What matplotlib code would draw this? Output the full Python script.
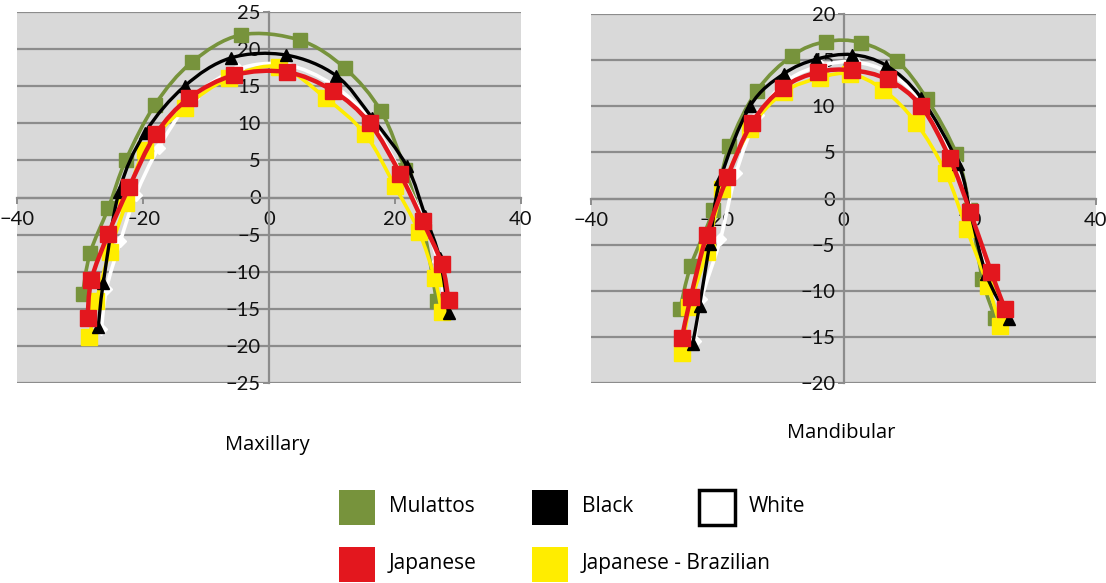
import numpy as np
import matplotlib.pyplot as plt
from matplotlib.patches import Rectangle, PathPatch
from matplotlib.path import Path

# Maxillary arch (x, y) per group
max_mul_x = [-29.6, -28.4, -25.5, -22.7, -18.1, -12.3, -4.5, 4.9, 12.1, 17.8, 21.6, 24.6, 26.6]
max_mul_y = [-13.0, -7.5, -1.4, 5.1, 12.5, 18.2, 21.9, 21.2, 17.4, 11.6, 3.7, -4.5, -14.0]
max_bla_x = [-27.1, -26.3, -23.8, -19.7, -13.4, -6.1, 2.7, 10.7, 16.4, 21.9, 24.8, 27.1, 28.5]
max_bla_y = [-17.4, -11.5, 0.8, 8.7, 15.0, 18.8, 19.2, 16.4, 10.7, 4.2, -2.5, -8.2, -15.6]
max_whi_x = [-26.6, -25.8, -23.6, -21.1, -17.5, -12.1, -4.9, 2.7, 10.1, 16.2, 20.8, 24.4, 26.8, 27.9]
max_whi_y = [-17.7, -12.3, -5.9, 0.4, 6.7, 13.4, 17.3, 17.9, 15.2, 10.3, 3.5, -2.8, -8.6, -14.5]
max_jap_x = [-28.8, -28.2, -25.5, -22.2, -18.0, -12.7, -5.5, 2.8, 10.1, 16.0, 20.8, 24.4, 27.4, 28.5]
max_jap_y = [-16.3, -11.1, -4.9, 1.4, 8.5, 13.4, 16.5, 16.9, 14.4, 10.0, 3.2, -3.2, -8.9, -13.8]
max_jbr_x = [-28.5, -27.4, -25.3, -22.7, -19.7, -13.4, -6.3, 1.6, 9.0, 15.3, 20.0, 23.8, 26.3, 27.4]
max_jbr_y = [-18.8, -14.0, -7.3, -0.8, 6.4, 12.1, 16.1, 17.6, 13.4, 8.5, 1.5, -4.6, -10.9, -15.4]

# Mandibular arch (x, y) per group
man_mul_x = [-25.9, -24.2, -20.6, -18.1, -13.7, -8.1, -2.8, 2.8, 8.5, 13.2, 17.9, 20.1, 22.0, 24.0]
man_mul_y = [-12.0, -7.3, -1.2, 5.7, 11.7, 15.5, 17.0, 16.9, 14.9, 10.8, 4.8, -1.3, -8.7, -12.9]
man_bla_x = [-23.9, -22.8, -21.2, -19.5, -14.8, -9.5, -4.3, 1.3, 6.8, 12.3, 18.2, 20.1, 22.6, 26.2]
man_bla_y = [-15.8, -11.6, -4.9, 2.1, 10.0, 13.5, 15.1, 15.6, 14.4, 10.9, 3.7, -1.5, -8.2, -13.1]
man_whi_x = [-23.6, -22.5, -19.5, -17.0, -13.5, -8.8, -3.5, 1.8, 7.2, 12.5, 17.6, 20.4, 23.0, 25.8]
man_whi_y = [-15.5, -10.9, -4.4, 2.8, 9.0, 12.8, 14.4, 14.8, 13.6, 10.4, 4.0, -1.6, -8.5, -13.2]
man_jap_x = [-25.6, -24.2, -21.7, -18.4, -14.5, -9.6, -4.0, 1.3, 7.0, 12.3, 16.8, 20.1, 23.4, 25.6]
man_jap_y = [-15.1, -10.7, -4.0, 2.3, 8.2, 12.0, 13.7, 13.9, 12.9, 10.0, 4.4, -1.5, -8.0, -12.0]
man_jbr_x = [-25.6, -24.4, -21.7, -19.2, -14.8, -9.5, -3.7, 1.1, 6.3, 11.5, 16.2, 19.5, 22.9, 24.8]
man_jbr_y = [-16.7, -11.8, -5.8, 1.0, 7.5, 11.5, 13.1, 13.5, 11.8, 8.2, 2.8, -3.3, -9.5, -13.8]

labels = ['Mulattos', 'Black', 'White', 'Japanese', 'Japanese - Brazilian']
colors = ['#77933c', '#000000', '#ffffff', '#e3171e', '#ffed00']

GRID = '#8c8c8c'
BG = '#d9d9d9'


def smooth_path(xs, ys):
    # Excel-like "smoothed line": cubic bezier through every data point
    p = np.column_stack([xs, ys])
    verts = [p[0]]
    codes = [Path.MOVETO]
    for i in range(len(p) - 1):
        p0 = p[i - 1] if i > 0 else p[i]
        p3 = p[i + 2] if i + 2 < len(p) else p[i + 1]
        c1 = p[i] + (p[i + 1] - p0) / 6
        c2 = p[i + 1] - (p3 - p[i]) / 6
        verts += [c1, c2, p[i + 1]]
        codes += [Path.CURVE4] * 3
    return Path(verts, codes)


def series(ax, xs, ys, col, lw, marker, ms, z):
    ax.add_patch(PathPatch(smooth_path(xs, ys), fill=False, edgecolor=col,
                           lw=lw, zorder=z, capstyle='round', joinstyle='round'))
    ax.plot(xs, ys, ls='none', marker=marker, ms=ms, color=col, zorder=z)


def draw_panel(ax, data, ylim, ystep):
    ax.set_facecolor(BG)
    ax.set_xlim(-40, 40)
    ax.set_ylim(-ylim, ylim)
    ax.set_xticks(range(-40, 41, 20))
    ax.set_yticks(range(-ylim, ylim + 1, ystep))
    for v in range(-ylim, ylim + 1, ystep):
        ax.axhline(v, color=GRID, lw=1.6, zorder=1)
    ax.spines['left'].set_position(('data', 0))
    ax.spines['bottom'].set_position(('data', 0))
    for s in ['left', 'bottom']:
        ax.spines[s].set_color(GRID)
        ax.spines[s].set_linewidth(1.6)
    ax.spines['top'].set_visible(False)
    ax.spines['right'].set_visible(False)
    ax.tick_params(axis='both', colors=GRID, length=4, width=1.4,
                   labelcolor='#111111', labelsize=14.5)
    ax.tick_params(axis='x', pad=6)
    ax.tick_params(axis='y', pad=2)
    for lab in ax.get_xticklabels() + ax.get_yticklabels():
        lab.set_fontfamily('Lato')

    (mx, my), (bx, by), (wx, wy), (jx, jy), (yx, yy) = data
    series(ax, mx, my, colors[0], 2.6, 's', 10, 3)
    series(ax, wx, wy, colors[2], 2.6, 'D', 6.5, 4)
    series(ax, yx, yy, colors[4], 2.6, 's', 11, 5)
    series(ax, bx, by, colors[1], 2.4, '^', 8.5, 6)
    series(ax, jx, jy, colors[3], 3.2, 's', 11, 7)


fig = plt.figure(figsize=(11.06, 5.83), dpi=100)

ax1 = fig.add_axes([17 / 1106, 1 - 383 / 583, 504 / 1106, 371 / 583])
draw_panel(ax1, [(max_mul_x, max_mul_y), (max_bla_x, max_bla_y), (max_whi_x, max_whi_y),
                 (max_jap_x, max_jap_y), (max_jbr_x, max_jbr_y)], 25, 5)

ax2 = fig.add_axes([591 / 1106, 1 - 383 / 583, 505 / 1106, 369 / 583])
draw_panel(ax2, [(man_mul_x, man_mul_y), (man_bla_x, man_bla_y), (man_whi_x, man_whi_y),
                 (man_jap_x, man_jap_y), (man_jbr_x, man_jbr_y)], 20, 5)

fig.text(267 / 1106, 1 - 445 / 583, 'Maxillary', ha='center', va='center',
         fontsize=14.5, family='Open Sans')
fig.text(841 / 1106, 1 - 433 / 583, 'Mandibular', ha='center', va='center',
         fontsize=14.5, family='Open Sans')

# legend drawn by hand, two rows
leg_pos = [(339, 490), (532, 490), (699, 490), (339, 547), (532, 547)]
for (px, py), lab, col in zip(leg_pos, labels, colors):
    edge = '#000000' if col == '#ffffff' else col
    lw = 2.5 if col == '#ffffff' else 0
    fig.patches.append(Rectangle((px / 1106, 1 - (py + 35) / 583), 36 / 1106, 35 / 583,
                                 transform=fig.transFigure, facecolor=col,
                                 edgecolor=edge, linewidth=lw))
    fig.text((px + 50) / 1106, 1 - (py + 17) / 583, lab, ha='left', va='center',
             fontsize=15, family='Open Sans')

fig.savefig('out.png', dpi=100)
